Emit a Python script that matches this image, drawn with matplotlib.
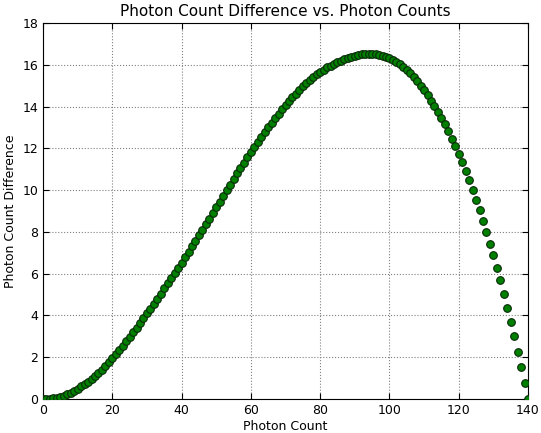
import matplotlib
matplotlib.use("Agg")
import matplotlib.pyplot as plt
import numpy as np

# photon counts 0..140
counts = np.arange(0, 141)

# difference values, one per count
diff = [
    0.00, 0.01, 0.02, 0.04, 0.07, 0.11, 0.16, 0.22, 0.30, 0.40,
    0.50, 0.60, 0.71, 0.83, 0.96, 1.10, 1.25, 1.41, 1.58, 1.76,
    1.95, 2.14, 2.34, 2.55, 2.76, 2.97, 3.19, 3.41, 3.64, 3.87,
    4.10, 4.33, 4.57, 4.81, 5.05, 5.29, 5.53, 5.78, 6.03, 6.28,
    6.53, 6.79, 7.05, 7.31, 7.57, 7.83, 8.10, 8.37, 8.64, 8.91,
    9.18, 9.45, 9.72, 9.99, 10.26, 10.53, 10.80, 11.06, 11.32, 11.57,
    11.82, 12.06, 12.30, 12.54, 12.77, 13.00, 13.22, 13.44, 13.65, 13.86,
    14.06, 14.25, 14.44, 14.62, 14.79, 14.96, 15.12, 15.27, 15.41, 15.54,
    15.66, 15.77, 15.87, 15.96, 16.05, 16.13, 16.20, 16.27, 16.33, 16.38,
    16.43, 16.47, 16.50, 16.52, 16.53, 16.53, 16.51, 16.48, 16.43, 16.37,
    16.30, 16.22, 16.13, 16.02, 15.90, 15.76, 15.60, 15.41, 15.20, 14.99,
    14.77, 14.54, 14.28, 14.01, 13.75, 13.45, 13.15, 12.81, 12.45, 12.11,
    11.71, 11.33, 10.91, 10.47, 10.00, 9.53, 9.03, 8.52, 7.98, 7.44,
    6.88, 6.27, 5.68, 5.04, 4.36, 3.69, 3.02, 2.27, 1.53, 0.78,
    0.00,
]

fig = plt.figure(figsize=(5.41, 4.33), dpi=100)
ax = fig.add_axes([0.0795, 0.0785, 0.8965, 0.8685])

ax.plot(counts, diff, "o", color="#007f00", markeredgecolor="#0a2a0a",
        markeredgewidth=0.8, markersize=5.5, zorder=3)

ax.set_xlim(0, 140)
ax.set_ylim(0, 18)
ax.set_xticks(range(0, 141, 20))
ax.set_yticks(range(0, 19, 2))
ax.grid(True, color="gray", linestyle=":", linewidth=0.8)
ax.tick_params(direction="in", top=True, right=True, length=4, labelsize=9)

ax.set_xlabel("Photon Count", fontsize=9, labelpad=2)
ax.set_ylabel("Photon Count Difference", fontsize=9, labelpad=4)
ax.set_title("Photon Count Difference vs. Photon Counts", fontsize=11, pad=5)

fig.savefig("out.png", dpi=100)
